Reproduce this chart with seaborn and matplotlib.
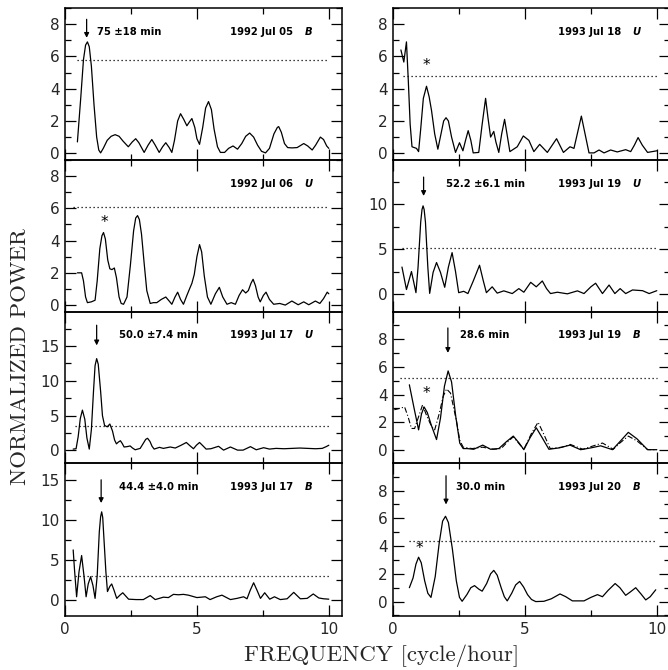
import numpy as np
import pandas as pd
import matplotlib
matplotlib.use("Agg")
import matplotlib.pyplot as plt
import seaborn as sns
from matplotlib.ticker import MultipleLocator, FixedLocator
import matplotlib.transforms as mtransforms

# ---------------- data ----------------
# 1992 Jul 05 B
f_l1 = [0.47, 0.60, 0.70, 0.78, 0.85, 0.92, 1.00, 1.10, 1.20, 1.28, 1.35, 1.45, 1.60, 1.75, 1.90, 2.05,
        2.20, 2.40, 2.55, 2.68, 2.80, 3.00, 3.15, 3.29, 3.42, 3.57, 3.70, 3.82, 3.95, 4.05, 4.15, 4.27,
        4.38, 4.50, 4.62, 4.72, 4.81, 4.92, 5.00, 5.10, 5.22, 5.33, 5.44, 5.55, 5.65, 5.78, 5.89, 6.05,
        6.20, 6.37, 6.54, 6.70, 6.85, 7.00, 7.15, 7.30, 7.45, 7.60, 7.75, 7.92, 8.05, 8.10, 8.20, 8.32,
        8.44, 8.60, 8.80, 8.95, 9.05, 9.20, 9.37, 9.50, 9.68, 9.80, 9.92, 10.0]
p_l1 = [0.7, 3.5, 5.8, 6.7, 6.9, 6.6, 5.4, 3.0, 1.0, 0.2, 0.02, 0.3, 0.8, 1.05, 1.15, 1.05,
        0.75, 0.4, 0.7, 0.9, 0.65, 0.05, 0.5, 0.85, 0.5, 0.05, 0.4, 0.65, 0.35, 0.05, 0.8, 2.0,
        2.45, 2.1, 1.7, 1.95, 2.15, 1.6, 0.9, 0.55, 1.6, 2.8, 3.2, 2.7, 1.5, 0.4, 0.05, 0.05,
        0.3, 0.45, 0.25, 0.6, 1.05, 1.25, 1.0, 0.5, 0.12, 0.02, 0.3, 1.2, 1.6, 1.65, 1.3, 0.6,
        0.35, 0.33, 0.35, 0.5, 0.6, 0.45, 0.2, 0.5, 1.0, 0.85, 0.45, 0.3]

# 1992 Jul 06 U
f_l2 = [0.47, 0.63, 0.70, 0.78, 0.85, 1.00, 1.14, 1.22, 1.32, 1.40, 1.46, 1.53, 1.62, 1.70, 1.78, 1.87,
        1.95, 2.05, 2.13, 2.22, 2.35, 2.48, 2.60, 2.68, 2.75, 2.82, 2.90, 3.00, 3.10, 3.23, 3.35, 3.48,
        3.65, 3.82, 3.95, 4.05, 4.17, 4.27, 4.38, 4.49, 4.62, 4.72, 4.81, 4.90, 5.00, 5.10, 5.18, 5.28,
        5.40, 5.53, 5.70, 5.85, 5.98, 6.14, 6.30, 6.46, 6.60, 6.73, 6.85, 6.95, 7.05, 7.13, 7.22, 7.32,
        7.40, 7.52, 7.62, 7.75, 7.91, 8.14, 8.35, 8.60, 8.84, 9.05, 9.24, 9.49, 9.66, 9.80, 9.94, 10.0]
p_l2 = [2.0, 2.0, 1.5, 0.5, 0.15, 0.2, 0.3, 1.5, 3.5, 4.3, 4.5, 4.1, 2.8, 2.25, 2.2, 2.3,
        1.7, 0.5, 0.1, 0.05, 0.5, 2.5, 4.6, 5.4, 5.55, 5.3, 4.4, 2.6, 0.9, 0.1, 0.15, 0.15,
        0.35, 0.5, 0.25, 0.05, 0.5, 0.8, 0.35, 0.05, 0.6, 1.0, 1.35, 1.9, 3.0, 3.75, 3.3, 1.8,
        0.5, 0.05, 0.7, 1.1, 0.5, 0.05, 0.15, 0.05, 0.6, 0.95, 0.75, 0.9, 1.35, 1.6, 1.2, 0.5,
        0.2, 0.6, 0.8, 0.35, 0.05, 0.1, 0.0, 0.25, 0.02, 0.2, 0.02, 0.25, 0.1, 0.4, 0.8, 0.7]

# 1993 Jul 17 U
f_l3 = [0.31, 0.42, 0.50, 0.58, 0.66, 0.75, 0.83, 0.92, 1.00, 1.08, 1.14, 1.20, 1.26, 1.35, 1.42, 1.50,
        1.60, 1.70, 1.80, 1.88, 1.95, 2.02, 2.10, 2.17, 2.24, 2.35, 2.47, 2.56, 2.66, 2.85, 2.98,
        3.06, 3.13, 3.22, 3.30, 3.38, 3.58, 3.73, 3.99, 4.18, 4.40, 4.60, 4.73, 4.87, 4.98, 5.10, 5.22,
        5.35, 5.53, 5.82, 6.01, 6.27, 6.54, 6.75, 7.03, 7.25, 7.53, 7.75, 8.0, 8.3, 8.6, 8.9, 9.2,
        9.5, 9.75, 9.9, 10.0]
p_l3 = [0.2, 0.25, 2.0, 4.6, 5.8, 4.5, 1.8, 0.2, 3.0, 8.5, 12.2, 13.2, 12.4, 8.5, 5.0, 3.6,
        3.4, 3.8, 2.8, 1.5, 0.95, 1.2, 1.4, 1.0, 0.5, 0.55, 0.65, 0.35, 0.1, 0.3, 1.1,
        1.6, 1.75, 1.3, 0.6, 0.2, 0.45, 0.3, 0.5, 0.35, 0.75, 1.15, 0.7, 0.25, 0.75, 1.15, 0.7,
        0.2, 0.25, 0.6, 0.05, 0.5, 0.05, 0.05, 0.55, 0.1, 0.4, 0.2, 0.3, 0.25, 0.3, 0.35, 0.3,
        0.25, 0.3, 0.55, 0.75]

# 1993 Jul 17 B
f_l4 = [0.31, 0.36, 0.44, 0.53, 0.63, 0.72, 0.80, 0.88, 0.97, 1.06, 1.14, 1.22, 1.30, 1.35, 1.39, 1.43,
        1.47, 1.55, 1.61, 1.70, 1.77, 1.86, 1.96, 2.08, 2.19, 2.30, 2.41, 2.70, 2.97, 3.10, 3.23, 3.42,
        3.73, 3.92, 4.11, 4.30, 4.49, 4.68, 5.00, 5.32, 5.50, 5.75, 5.95, 6.27, 6.52, 6.77, 6.90, 7.02,
        7.15, 7.28, 7.41, 7.57, 7.76, 7.94, 8.16, 8.42, 8.67, 8.92, 9.18, 9.41, 9.62, 9.80, 10.0]
p_l4 = [6.25, 3.8, 0.4, 3.5, 5.55, 3.0, 0.4, 2.0, 2.9, 1.8, 0.2, 3.0, 8.5, 10.4, 11.0, 10.3,
        8.0, 3.5, 1.05, 1.7, 2.0, 1.2, 0.2, 0.6, 0.9, 0.5, 0.1, 0.05, 0.05, 0.3, 0.55, 0.05,
        0.35, 0.3, 0.7, 0.65, 0.7, 0.6, 0.3, 0.4, 0.05, 0.4, 0.6, 0.05, 0.2, 0.4, 0.15, 1.2,
        2.15, 1.2, 0.2, 0.9, 0.1, 0.4, 0.05, 0.15, 0.95, 0.15, 0.2, 0.75, 0.25, 0.15, 0.1]

# 1993 Jul 18 U
f_r1 = [0.30, 0.41, 0.51, 0.58, 0.65, 0.72, 0.89, 0.97, 1.05, 1.15, 1.27, 1.37, 1.46, 1.58, 1.70, 1.82,
        1.92, 2.01, 2.10, 2.22, 2.37, 2.52, 2.65, 2.75, 2.85, 2.95, 3.04, 3.25, 3.38, 3.51, 3.60, 3.70,
        3.82, 3.90, 4.01, 4.12, 4.23, 4.32, 4.43, 4.71, 4.94, 5.15, 5.34, 5.56, 5.85, 6.20, 6.46, 6.71,
        6.86, 7.00, 7.14, 7.28, 7.43, 7.62, 7.81, 8.00, 8.25, 8.50, 8.82, 9.01, 9.15, 9.29, 9.45, 9.65, 10.0]
p_r1 = [6.4, 5.65, 6.9, 4.5, 1.8, 0.4, 0.3, 0.1, 1.5, 3.4, 4.15, 3.5, 2.65, 1.2, 0.25, 1.2,
        2.0, 2.2, 2.0, 1.0, 0.05, 0.65, 0.15, 0.8, 1.4, 0.8, 0.02, 0.05, 1.8, 3.4, 2.2, 1.0,
        1.35, 0.7, 0.05, 1.2, 2.1, 1.2, 0.1, 0.4, 1.07, 0.8, 0.1, 0.55, 0.05, 0.9, 0.05, 0.4,
        0.3, 1.3, 2.3, 1.2, 0.02, 0.02, 0.2, 0.02, 0.2, 0.08, 0.22, 0.1, 0.5, 0.97, 0.5, 0.05, 0.15]

# 1993 Jul 19 U
f_r2 = [0.34, 0.51, 0.70, 0.87, 0.95, 1.05, 1.10, 1.14, 1.18, 1.23, 1.32, 1.39, 1.52, 1.65, 1.80, 1.96,
        2.10, 2.24, 2.37, 2.49, 2.68, 2.84, 3.05, 3.28, 3.42, 3.54, 3.76, 3.95, 4.20, 4.52, 4.77, 4.96,
        5.22, 5.43, 5.66, 5.82, 5.97, 6.23, 6.61, 6.99, 7.24, 7.50, 7.68, 7.94, 8.19, 8.41, 8.61, 8.82,
        9.08, 9.46, 9.71, 10.0]
p_r2 = [3.0, 0.5, 2.5, 0.15, 3.0, 8.0, 9.4, 9.8, 9.4, 8.0, 3.0, 0.07, 2.4, 3.5, 2.4, 0.75,
        3.0, 4.6, 2.5, 0.15, 0.3, 0.05, 1.5, 3.2, 1.5, 0.15, 0.8, 0.1, 0.35, 0.05, 0.6, 0.2,
        1.3, 0.8, 1.45, 0.6, 0.05, 0.2, 0.02, 0.35, 0.05, 0.8, 1.2, 0.05, 1.0, 0.05, 0.6, 0.05,
        0.45, 0.37, 0.05, 0.37]

# 1993 Jul 19 B (solid)
f_r3 = [0.62, 0.80, 0.97, 1.08, 1.18, 1.30, 1.45, 1.65, 1.80, 1.95, 2.09, 2.22, 2.38, 2.53, 2.66, 2.81,
        3.06, 3.40, 3.70, 4.01, 4.30, 4.56, 4.78, 4.96, 5.20, 5.43, 5.65, 5.91, 6.30, 6.71, 7.11, 7.50,
        7.87, 8.32, 8.60, 8.92, 9.25, 9.65, 10.0]
p_r3 = [4.7, 3.0, 1.45, 2.6, 3.1, 2.7, 1.8, 0.75, 2.3, 4.6, 5.7, 4.9, 2.4, 0.5, 0.1, 0.1,
        0.05, 0.35, 0.05, 0.1, 0.6, 1.0, 0.5, 0.02, 0.9, 1.6, 0.9, 0.05, 0.15, 0.35, 0.02, 0.15,
        0.3, 0.02, 0.6, 1.27, 0.8, 0.02, 0.02]
# 1993 Jul 19 B (dash-dot)
f_r3b = [0.05, 0.25, 0.44, 0.57, 0.70, 0.82, 0.97, 1.12, 1.27, 1.46, 1.58, 1.75, 1.90, 2.03, 2.18, 2.41,
         2.53, 2.66, 3.00, 3.40, 3.80, 4.10, 4.30, 4.56, 4.80, 4.96, 5.25, 5.50, 5.70, 5.96, 6.40, 6.72,
         7.20, 7.60, 7.94, 8.35, 8.60, 8.92, 9.25, 9.65, 10.0]
p_r3b = [2.9, 3.0, 3.1, 2.4, 1.55, 1.55, 2.4, 3.25, 2.5, 1.7, 1.45, 2.6, 3.85, 4.4, 4.1, 2.05,
         0.7, 0.2, 0.1, 0.2, 0.05, 0.1, 0.5, 0.95, 0.4, 0.05, 1.2, 2.0, 1.2, 0.1, 0.2, 0.4,
         0.05, 0.3, 0.5, 0.05, 0.5, 1.0, 0.65, 0.03, 0.02]

# 1993 Jul 20 B
f_r4 = [0.62, 0.76, 0.87, 0.97, 1.07, 1.20, 1.32, 1.44, 1.60, 1.75, 1.88, 1.99, 2.10, 2.25, 2.40, 2.52,
        2.62, 2.80, 2.95, 3.09, 3.25, 3.38, 3.55, 3.70, 3.82, 3.95, 4.10, 4.22, 4.33, 4.50, 4.65, 4.80,
        4.95, 5.10, 5.25, 5.41, 5.72, 6.00, 6.33, 6.55, 6.80, 7.24, 7.50, 7.75, 7.94, 8.15, 8.42, 8.60,
        8.82, 9.00, 9.20, 9.40, 9.58, 9.75, 9.96]
p_r4 = [1.0, 1.7, 2.7, 3.2, 2.8, 1.5, 0.6, 0.3, 1.8, 4.2, 5.8, 6.15, 5.7, 3.8, 1.5, 0.3,
        0.02, 0.5, 1.0, 1.15, 0.9, 0.75, 1.3, 2.0, 2.25, 1.9, 1.0, 0.35, 0.05, 0.6, 1.2, 1.45,
        1.05, 0.5, 0.15, 0.0, 0.02, 0.2, 0.55, 0.35, 0.05, 0.05, 0.3, 0.5, 0.35, 0.8, 1.3, 1.0,
        0.45, 0.7, 1.0, 0.55, 0.12, 0.35, 0.85]

# panel labels, thresholds, periods
dates = ["1992 Jul 05", "1992 Jul 06", "1993 Jul 17", "1993 Jul 17",
         "1993 Jul 18", "1993 Jul 19", "1993 Jul 19", "1993 Jul 20"]
bands = ["B", "U", "U", "B", "U", "U", "B", "B"]
periods = ["75 \u00b118 min", None, "50.0 \u00b17.4 min", "44.4 \u00b14.0 min",
           None, "52.2 \u00b16.1 min", "28.6 min", "30.0 min"]
thresholds = [5.76, 6.06, 3.5, 2.95, 4.77, 5.07, 5.2, 4.4]
threshold_start = [0.47, 0.3, 0.38, 0.38, 0.38, 0.34, 0.28, 0.62]
peak_freq = [0.82, None, 1.2, 1.37, None, 1.16, 2.08, 2.01]
star_freq = [None, 1.48, None, None, 1.25, None, 1.25, 1.0]
star_power = [None, 5.15, None, None, 5.45, None, 4.1, 3.85]

curves = [(f_l1, p_l1), (f_l2, p_l2), (f_l3, p_l3), (f_l4, p_l4),
          (f_r1, p_r1), (f_r2, p_r2), (f_r3, p_r3), (f_r4, p_r4)]

# ---------------- layout / style ----------------
sns.set_style("ticks")
plt.rcParams["font.family"] = ["DejaVu Sans"]

W, H = 668, 670
fig = plt.figure(figsize=(W / 100, H / 100), dpi=100)

col_x = [65, 393]
ax_w = 277
rows = [(8, 160), (160, 312), (312, 463), (463, 616)]
ylims = [(-0.42, 9.0), (-0.43, 9.0), (-1.8, 19.9), (-2.0, 17.1),
         (-0.42, 9.0), (-2.0, 14.9), (-0.94, 9.95), (-1.04, 9.99)]
ymajor = [2, 2, 5, 5, 2, 5, 2, 2]
yminor = [1, 1, 2.5, 2.5, 1, 2.5, 1, 1]
# arrow (top, tip) in data units
arrow_y = [(8.3, 7.15), None, (18.0, 15.1), (15.0, 12.1), None, (13.0, 10.9), (8.8, 7.0), (9.07, 7.0)]
period_x = [1.2, None, 2.03, 2.03, None, 2.0, 2.53, 2.37]

bold = dict(fontsize=7.2, fontweight="bold", color="black")

for i in range(8):
    c = i // 4
    r = i % 4
    y0, y1 = rows[r]
    ax = fig.add_axes([col_x[c] / W, 1 - y1 / H, ax_w / W, (y1 - y0) / H])
    f, p = curves[i]
    sns.lineplot(x=f, y=p, ax=ax, color="black", lw=0.9, sort=False, estimator=None,
                 solid_joinstyle="round")
    if i == 6:
        sns.lineplot(x=f_r3b, y=p_r3b, ax=ax, color="black", lw=0.8, sort=False,
                     estimator=None, linestyle=(0, (5, 2, 1, 2)))
    # threshold
    ax.plot([threshold_start[i], 10.0], [thresholds[i], thresholds[i]],
            color="black", lw=0.9, linestyle=(0, (1, 2.2)))
    ax.set_xlim(0, 10.5)
    ax.set_ylim(*ylims[i])
    ax.xaxis.set_major_locator(FixedLocator([0, 5, 10]))
    ax.xaxis.set_minor_locator(FixedLocator([2.5, 7.5]))
    ax.yaxis.set_major_locator(MultipleLocator(ymajor[i]))
    ax.yaxis.set_minor_locator(MultipleLocator(yminor[i]))
    ax.tick_params(which="both", direction="in", top=True, bottom=True, left=True, right=True,
                   width=0.9, color="black")
    ax.tick_params(which="major", length=8)
    ax.tick_params(which="minor", length=4.5)
    ax.tick_params(axis="y", labelsize=11, pad=4)
    ax.tick_params(axis="x", labelsize=11, pad=4)
    if r != 3:
        ax.set_xticklabels([])
    ax.set_xlabel("")
    ax.set_ylabel("")
    for s in ax.spines.values():
        s.set_visible(True)
        s.set_linewidth(1.1)
        s.set_color("black")
    ax.patch.set_alpha(0)

    trans = mtransforms.blended_transform_factory(ax.transData, ax.transAxes)
    ax.text(9.38, 0.845, bands[i], transform=trans, ha="right", va="center",
            style="italic", **bold)
    ax.annotate(dates[i], xy=(9.38, 0.845), xycoords=trans, xytext=(-14, 0),
                textcoords="offset points", ha="right", va="center", **bold)
    if periods[i] is not None:
        ax.text(period_x[i], 0.845, periods[i], transform=trans, ha="left", va="center", **bold)
    if arrow_y[i] is not None:
        ax.annotate("", xy=(peak_freq[i], arrow_y[i][1]), xytext=(peak_freq[i], arrow_y[i][0]),
                    arrowprops=dict(arrowstyle="-|>", color="black", lw=0.9,
                                    mutation_scale=7, shrinkA=0, shrinkB=0))
    if star_freq[i] is not None:
        ax.text(star_freq[i], star_power[i], "*", ha="center", va="center", fontsize=11,
                color="black")

fig.text(0.03, 0.468, "NORMALIZED POWER", rotation=90, ha="center", va="center",
         fontsize=16.5, family="cmr10")
fig.text(0.572, 0.022, "FREQUENCY [cycle/hour]", ha="center", va="center",
         fontsize=16.5, family="cmr10")

fig.savefig("out.png", dpi=100)
